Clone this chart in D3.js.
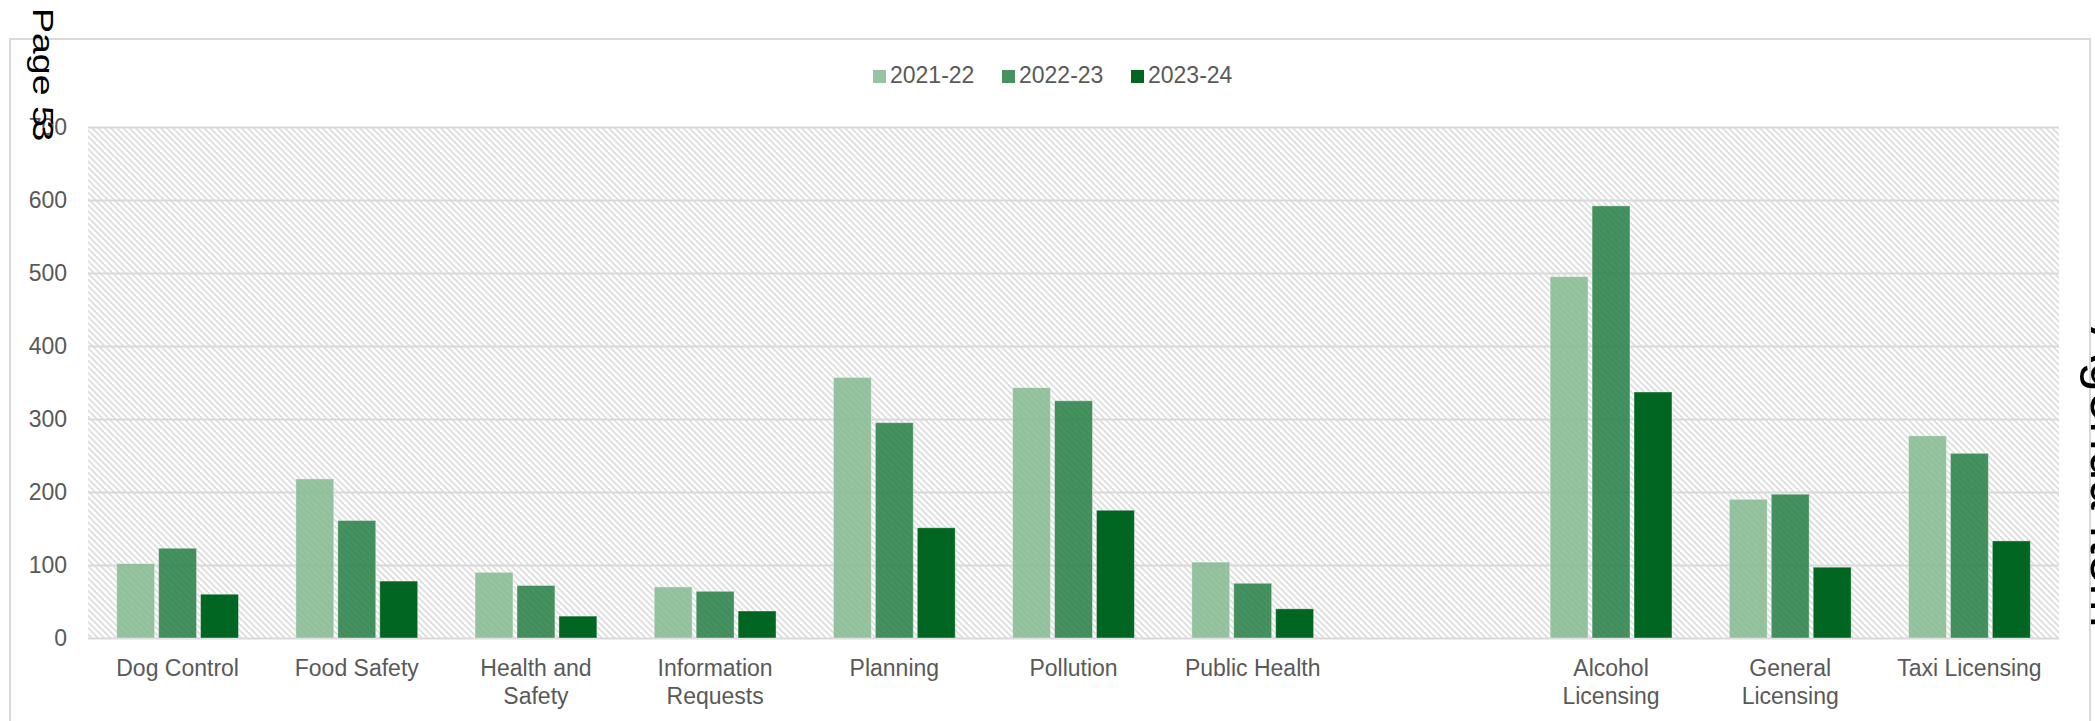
<!DOCTYPE html>
<html>
<head>
<meta charset="utf-8">
<script src="https://cdn.jsdelivr.net/npm/d3@7"></script>
<style>
  body { margin: 0; background: #fff; }
  svg { display: block; font-family: "Liberation Sans", Arial, sans-serif; }
</style>
</head>
<body>
<div id="chart"></div>
<script>
// chart data
const categories = ['Dog Control', 'Food Safety', 'Health and Safety', 'Information Requests',
    'Planning', 'Pollution', 'Public Health', '', 'Alcohol Licensing', 'General Licensing', 'Taxi Licensing'];
const seriesNames = ['2021-22', '2022-23', '2023-24'];
const values2122 = [102, 218, 90, 70, 357, 343, 104, null, 495, 190, 277];
const values2223 = [123, 161, 72, 64, 295, 325, 75, null, 592, 197, 253];
const values2324 = [60, 78, 30, 37, 151, 175, 40, null, 337, 97, 133];
const yTicks = [0, 100, 200, 300, 400, 500, 600, 700];

const colours = {
    '2021-22': '#84b98f',
    '2022-23': '#267e44',
    '2023-24': '#006622'
};
const opacities = { '2021-22': 0.85, '2022-23': 0.85, '2023-24': 1 };

const width = 2095, height = 721;
const plot = { left: 88, right: 2059, top: 127, bottom: 638 };

const svg = d3.select('#chart')
    .append('svg')
    .attr('width', width)
    .attr('height', height);

// hatched background pattern
const defs = svg.append('defs');
const pat = defs.append('pattern')
    .attr('id', 'hatch')
    .attr('patternUnits', 'userSpaceOnUse')
    .attr('width', 4.4)
    .attr('height', 4.4)
    .attr('patternTransform', 'rotate(-45)');
pat.append('rect').attr('width', 4.4).attr('height', 4.4).attr('fill', '#ffffff');
pat.append('line')
    .attr('x1', 1).attr('y1', 0).attr('x2', 1).attr('y2', 4.4)
    .attr('stroke', '#d2d2d2')
    .attr('stroke-width', 1.3);

// outer chart border
svg.append('rect')
    .attr('x', 10)
    .attr('y', 39)
    .attr('width', 2080)
    .attr('height', 720)
    .attr('fill', 'none')
    .attr('stroke', '#d9d9d9')
    .attr('stroke-width', 2);

svg.append('rect')
    .attr('x', plot.left)
    .attr('y', plot.top)
    .attr('width', plot.right - plot.left)
    .attr('height', plot.bottom - plot.top)
    .attr('fill', 'url(#hatch)');

const x0 = d3.scaleBand()
    .domain(categories.map((c, i) => i))
    .range([plot.left, plot.right])
    .paddingInner(0.32)
    .paddingOuter(0.16);

const x1 = d3.scaleBand()
    .domain(seriesNames)
    .range([0, x0.bandwidth()])
    .paddingInner(0.095);

const y = d3.scaleLinear()
    .domain([0, 700])
    .range([plot.bottom, plot.top]);

// y axis + gridlines
const yAxis = svg.append('g')
    .attr('transform', 'translate(' + plot.left + ',0)')
    .call(d3.axisLeft(y)
        .tickValues(yTicks)
        .tickSize(-(plot.right - plot.left))
        .tickPadding(21));
yAxis.select('.domain').remove();
yAxis.selectAll('line')
    .attr('stroke', '#d9d9d9')
    .attr('stroke-width', 2);
yAxis.selectAll('text')
    .attr('fill', '#595959')
    .style('font-size', '23px');

// bars
const seriesData = [values2122, values2223, values2324];
const groups = svg.append('g')
    .selectAll('g')
    .data(categories.map((c, i) => i))
    .enter()
    .append('g')
    .attr('transform', d => 'translate(' + x0(d) + ',0)');

groups.selectAll('rect')
    .data(i => seriesNames.map((s, k) => ({ key: s, value: seriesData[k][i] })).filter(d => d.value != null))
    .enter()
    .append('rect')
    .attr('x', d => x1(d.key))
    .attr('y', d => y(d.value))
    .attr('width', x1.bandwidth())
    .attr('height', d => y(0) - y(d.value))
    .attr('fill', d => colours[d.key])
    .attr('fill-opacity', d => opacities[d.key])
    .attr('stroke', '#ffffff')
    .attr('stroke-opacity', 0.4)
    .attr('stroke-width', 1);

// x axis labels
const xAxis = svg.append('g')
    .attr('transform', 'translate(0,' + plot.bottom + ')')
    .call(d3.axisBottom(x0)
        .tickFormat(i => categories[i])
        .tickSize(0)
        .tickPadding(22));
xAxis.select('.domain').remove();
xAxis.selectAll('text')
    .attr('fill', '#595959')
    .style('font-size', '23px')
    .each(function() { wrap(d3.select(this), 168); });

function wrap(text, maxWidth) {
    const words = text.text().split(' ');
    const yAttr = text.attr('y'), dy = text.attr('dy');
    text.text(null);
    let line = [];
    let lineNo = 0;
    let tspan = text.append('tspan').attr('x', 0).attr('y', yAttr).attr('dy', dy);
    words.forEach(function(w) {
        line.push(w);
        tspan.text(line.join(' '));
        if (tspan.node().getComputedTextLength() > maxWidth && line.length > 1) {
            line.pop();
            tspan.text(line.join(' '));
            line = [w];
            lineNo++;
            tspan = text.append('tspan')
                .attr('x', 0)
                .attr('y', yAttr)
                .attr('dy', (parseFloat(dy) + lineNo * 1.22) + 'em')
                .text(w);
        }
    });
}

// legend
const legend = svg.append('g')
    .selectAll('g')
    .data(seriesNames)
    .enter()
    .append('g')
    .attr('transform', (d, i) => 'translate(' + (873 + i * 129) + ',70)');

legend.append('rect')
    .attr('width', 13)
    .attr('height', 13)
    .attr('fill', d => colours[d])
    .attr('fill-opacity', d => opacities[d]);

legend.append('text')
    .attr('x', 17)
    .attr('y', 13)
    .attr('fill', '#595959')
    .style('font-size', '23px')
    .text(d => d);

// page furniture from the scanned document
const pageText = svg.append('text')
    .attr('transform', 'translate(33,8) rotate(90) scale(1.25,1)')
    .attr('fill', '#000')
    .style('font-size', '30px')
    .text('Page 5');
pageText.append('tspan')
    .attr('dx', -5)
    .text('3');

svg.append('text')
    .attr('transform', 'translate(2091,327) rotate(90)')
    .attr('fill', '#000')
    .style('font-size', '53px')
    .text('Agenda Item');
</script>
</body>
</html>
